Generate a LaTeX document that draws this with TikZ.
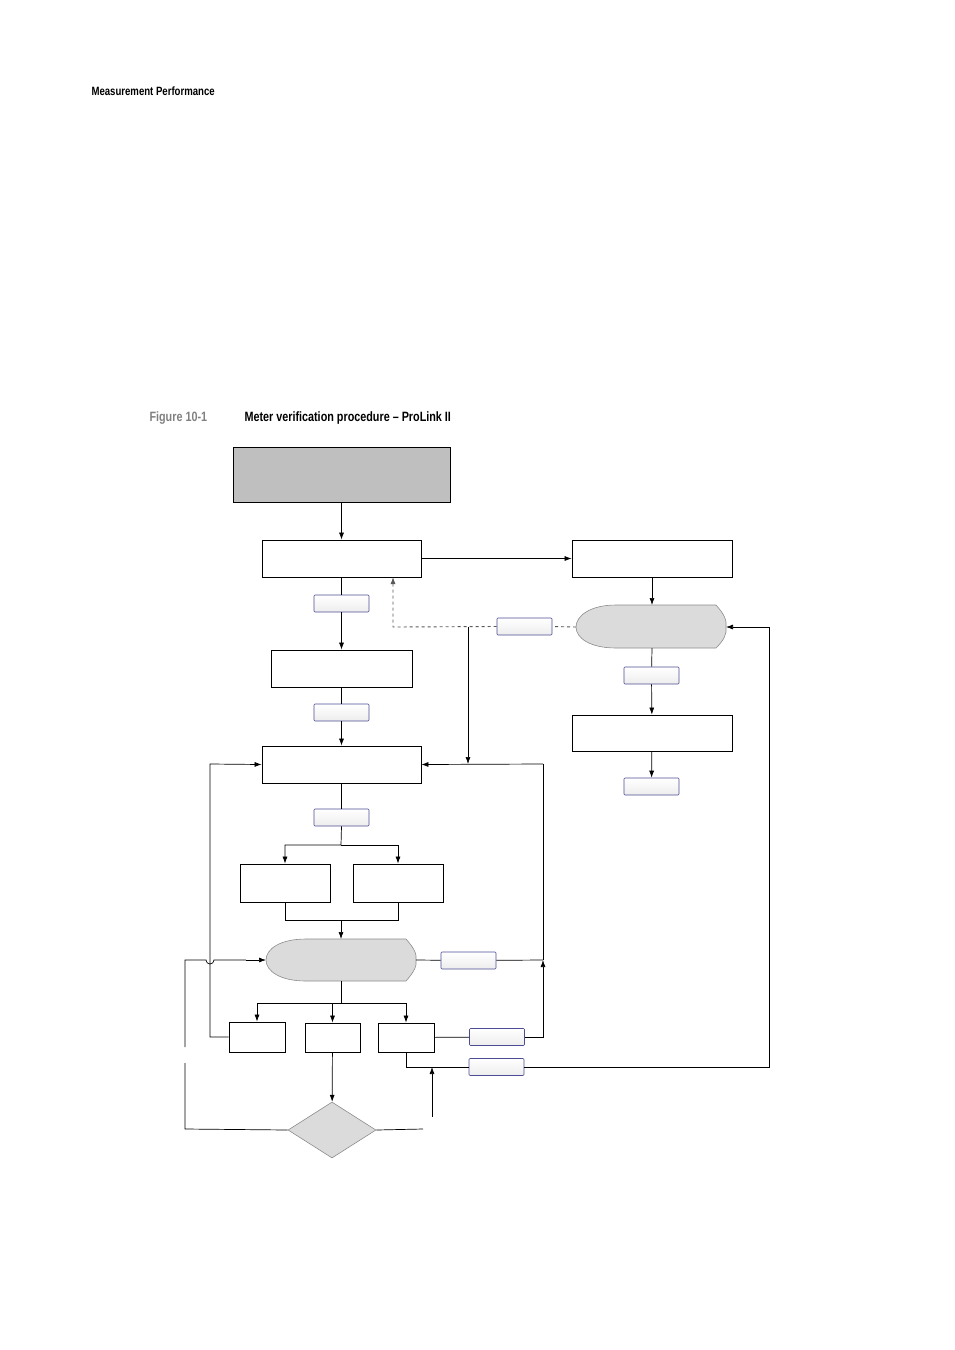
\documentclass[tikz,border=0pt]{standalone}
\usepackage{fontspec}
\newfontfamily\hd[FakeStretch=0.8]{Liberation Sans}
\usetikzlibrary{arrows.meta,shapes.geometric}
\begin{document}
\begin{tikzpicture}[x=1pt,y=-1pt,
  box/.style={draw,line width=0.8pt,inner sep=0pt,fill=white},
  lbl/.style={draw=blue!40!black!70,line width=0.6pt,rounded corners=1pt,inner sep=0pt,minimum width=55pt,minimum height=17pt,top color=white,bottom color=black!7},
  ln/.style={line width=0.7pt},
  ar/.style={ln,-{Latex[length=7pt,width=5pt]}},
  shield/.style={fill=black!14,draw=black!45,line width=0.6pt}]
\useasboundingbox (0,0) rectangle (954,1350);
\node[anchor=west,font=\hd\bfseries\fontsize{12}{14}\selectfont] (hdr) at (88,91) {Measurement Performance};
\node[anchor=west,font=\hd\bfseries\fontsize{13.5}{16}\selectfont,text=black!50] (fig) at (146,418) {Figure 10-1};
\node[anchor=west,font=\hd\bfseries\fontsize{13.5}{16}\selectfont] (cap) at (241,418) {Meter verification procedure – ProLink II};
% boxes
\node[box,fill=black!25,minimum width=217pt,minimum height=55pt] (top) at (341.5,474.5) {};
\node[box,minimum width=159pt,minimum height=37pt] (A) at (341.5,558.5) {};
\node[box,minimum width=160pt,minimum height=37pt] (R1) at (652,558.5) {};
\node[box,minimum width=141pt,minimum height=37pt] (B) at (341.5,668.5) {};
\node[box,minimum width=159pt,minimum height=37pt] (C) at (341.5,764.5) {};
\node[box,minimum width=160pt,minimum height=36pt] (R2) at (652,733) {};
\node[box,minimum width=90pt,minimum height=38pt] (D) at (285,883) {};
\node[box,minimum width=90pt,minimum height=38pt] (E) at (398,883) {};
\node[box,minimum width=56pt,minimum height=30pt] (F) at (257,1037) {};
\node[box,minimum width=55pt,minimum height=29pt] (G) at (332.5,1037.5) {};
\node[box,minimum width=56pt,minimum height=29pt] (H) at (406,1037.5) {};
\node[diamond,fill=black!14,draw=black!45,line width=0.6pt,minimum width=88pt,minimum height=56pt,inner sep=0pt,aspect=1.6] (Q) at (332,1130) {};
% shields
\draw[shield] (616,605) -- (716,605) .. controls (724,614) and (727,620) .. (726,627) .. controls (727,634) and (724,640) .. (716,648) -- (616,648) .. controls (590,648) and (576,638) .. (576,627) .. controls (576,616) and (590,605) .. (616,605) -- cycle;
\coordinate (S1t) at (652,605); \coordinate (S1b) at (652,648);
\coordinate (S1l) at (576,627); \coordinate (S1r) at (726,627);
\draw[shield] (306,939) -- (406,939) .. controls (414,948) and (417,954) .. (416,960) .. controls (417,966) and (414,972) .. (406,981) -- (306,981) .. controls (280,981) and (266,971) .. (266,960) .. controls (266,949) and (280,939) .. (306,939) -- cycle;
\coordinate (S2t) at (341,939); \coordinate (S2b) at (341,981);
\coordinate (S2l) at (266,960); \coordinate (S2r) at (416,960);
% labels
\node[lbl] (L1) at (341.5,603.5) {};
\node[lbl] (L2) at (524.5,626.5) {};
\node[lbl] (L3) at (341.5,712.5) {};
\node[lbl] (L4) at (651.5,675.5) {};
\node[lbl] (L5) at (651.5,786.5) {};
\node[lbl] (L6) at (341.5,817.5) {};
\node[lbl] (L7) at (468.5,960.5) {};
\node[lbl] (L8) at (497,1037) {};
\node[lbl] (L9) at (496.5,1067) {};
% connectors
\draw[ar] (top) -- (A);
\draw[ar] (A) -- (R1);
\draw[ar] (R1) -- (S1t);
\draw[ln] (A) -- (L1); \draw[ar] (L1) -- (B);
\draw[ln] (B) -- (L3); \draw[ar] (L3) -- (C);
\draw[ln] (S1b) -- (L4); \draw[ar] (L4) -- (R2);
\draw[ar] (R2) -- (L5);
\draw[ln,dashed,draw=black!65,line width=0.9pt] (S1l) -- (L2.east);
\draw[ln,dashed,draw=black!65,line width=0.9pt,-{Latex[length=7pt,width=5pt]}] (L2.west) -- (393,627) -- (393,577);
\coordinate (j1) at (468,627);
\draw[ar] (j1) -- (468,764);
\draw[ar] (543,764) -- (C.east);
\draw[ln] (543,764) -- (543,960);
\draw[ln] (C) -- (L6);
\draw[ar] (L6.south) -- (341,845) -| (D.north);
\draw[ar] (341,845) -| (E.north);
\draw[ln] (D.south) -- (285,920) -| (E.south);
\draw[ar] (341,920) -- (S2t);
\draw[ln] (S2r) -- (L7); \draw[ln] (L7) -- (543,960);
\draw[ln] (S2b) -- (341,1003);
\draw[ar] (341,1003) -| (F.north);
\draw[ar] (341,1003) -| (G.north);
\draw[ar] (341,1003) -| (H.north);
\draw[ar] (F.west) -- (210,1037) -- (210,764) -- (C.west);
\draw[ln] (185,1047) -- (185,960) -- (206,960) arc[start angle=180,end angle=0,radius=4] -- (246,960);
\draw[ar] (246,960) -- (S2l);
\draw[ln] (185,1063) -- (185,1129) -- (Q.west);
\draw[ln] (Q.east) -- (423,1129);
\draw[ar] (G) -- (Q);
\draw[ln] (H) -- (L8); \draw[ar] (L8) -- (543,1037) -- (543,960);
\draw[ln] (H.south) -- (406,1067) -- (L9);
\draw[ar] (L9) -- (769,1067) -- (769,627) -- (S1r);
\draw[ar] (432,1117) -- (432,1067);
\end{tikzpicture}
\end{document}
